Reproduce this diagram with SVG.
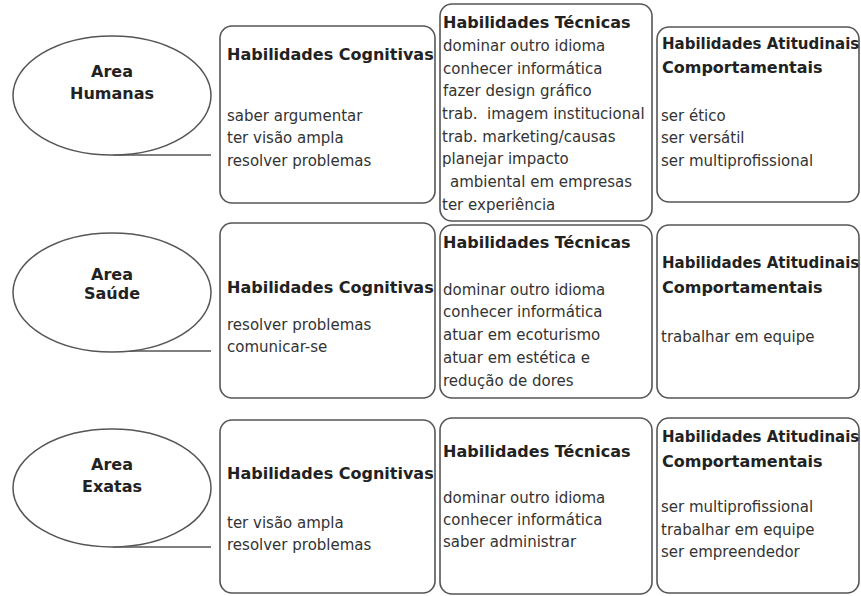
<svg xmlns="http://www.w3.org/2000/svg" width="861" height="596" viewBox="0 0 861 596">
<style>
.bg{fill:#ffffff}
.ell{fill:#ffffff;stroke:#555;stroke-width:1.5}
.box{fill:#ffffff;stroke:#555;stroke-width:1.6}
.conn{stroke:#555;stroke-width:1.5;fill:none}
.t{font-family:"DejaVu Sans",Verdana,sans-serif;font-size:15px;fill:#333}
.h{font-family:"DejaVu Sans",Verdana,sans-serif;font-size:16px;font-weight:bold;fill:#222}
.ha{font-size:15px}
.c{text-anchor:middle}
</style>
<rect class="bg" x="0" y="0" width="861" height="596"/>
<g id="connectors">
<line class="conn" x1="113" y1="155" x2="211" y2="155"/>
<line class="conn" x1="113" y1="351" x2="211" y2="351"/>
<line class="conn" x1="113" y1="547" x2="211" y2="547"/>
</g>
<g id="area-humanas">
<ellipse class="ell" cx="112" cy="95.5" rx="99" ry="59.5"/>
<text class="h c" x="112" y="77">Area</text>
<text class="h c" x="112" y="99">Humanas</text>
</g>
<g id="humanas-cognitivas">
<rect class="box" x="220" y="26" width="215" height="177" rx="12"/>
<text class="h" x="227" y="60">Habilidades Cognitivas</text>
<text class="t" x="227" y="121">saber argumentar</text>
<text class="t" x="227" y="143">ter visão ampla</text>
<text class="t" x="227" y="166">resolver problemas</text>
</g>
<g id="humanas-tecnicas">
<rect class="box" x="440" y="4" width="212" height="217" rx="12"/>
<text class="h" x="443" y="28">Habilidades Técnicas</text>
<text class="t" x="443" y="51">dominar outro idioma</text>
<text class="t" x="443" y="73.5">conhecer informática</text>
<text class="t" x="443" y="96">fazer design gráfico</text>
<text class="t" x="442" y="119" xml:space="preserve">trab.  imagem institucional</text>
<text class="t" x="442" y="141.5">trab. marketing/causas</text>
<text class="t" x="442" y="164">planejar impacto</text>
<text class="t" x="450" y="187">ambiental em empresas</text>
<text class="t" x="442" y="209.5">ter experiência</text>
</g>
<g id="humanas-atitudinais">
<rect class="box" x="657" y="27" width="202" height="175" rx="12"/>
<text class="h ha" x="662" y="49">Habilidades Atitudinais</text>
<text class="h" x="662" y="73">Comportamentais</text>
<text class="t" x="661" y="121">ser ético</text>
<text class="t" x="661" y="143">ser versátil</text>
<text class="t" x="661" y="166">ser multiprofissional</text>
</g>
<g id="area-saude">
<ellipse class="ell" cx="112" cy="292.5" rx="99" ry="59.5"/>
<text class="h c" x="112" y="280">Area</text>
<text class="h c" x="112" y="299">Saúde</text>
</g>
<g id="saude-cognitivas">
<rect class="box" x="220" y="223" width="215" height="175" rx="12"/>
<text class="h" x="227" y="293">Habilidades Cognitivas</text>
<text class="t" x="227" y="330">resolver problemas</text>
<text class="t" x="227" y="352">comunicar-se</text>
</g>
<g id="saude-tecnicas">
<rect class="box" x="440" y="225" width="212" height="173" rx="12"/>
<text class="h" x="443" y="248">Habilidades Técnicas</text>
<text class="t" x="443" y="295">dominar outro idioma</text>
<text class="t" x="443" y="317">conhecer informática</text>
<text class="t" x="443" y="340">atuar em ecoturismo</text>
<text class="t" x="443" y="363">atuar em estética e</text>
<text class="t" x="443" y="386">redução de dores</text>
</g>
<g id="saude-atitudinais">
<rect class="box" x="657" y="225" width="202" height="173" rx="12"/>
<text class="h ha" x="662" y="268">Habilidades Atitudinais</text>
<text class="h" x="662" y="293">Comportamentais</text>
<text class="t" x="661" y="342">trabalhar em equipe</text>
</g>
<g id="area-exatas">
<ellipse class="ell" cx="112" cy="488" rx="99" ry="59"/>
<text class="h c" x="112" y="470">Area</text>
<text class="h c" x="112" y="492">Exatas</text>
</g>
<g id="exatas-cognitivas">
<rect class="box" x="220" y="420" width="215" height="173" rx="12"/>
<text class="h" x="227" y="479">Habilidades Cognitivas</text>
<text class="t" x="227" y="528">ter visão ampla</text>
<text class="t" x="227" y="550">resolver problemas</text>
</g>
<g id="exatas-tecnicas">
<rect class="box" x="440" y="418" width="212" height="176" rx="12"/>
<text class="h" x="443" y="457">Habilidades Técnicas</text>
<text class="t" x="443" y="503">dominar outro idioma</text>
<text class="t" x="443" y="525">conhecer informática</text>
<text class="t" x="443" y="547">saber administrar</text>
</g>
<g id="exatas-atitudinais">
<rect class="box" x="657" y="418" width="202" height="175" rx="12"/>
<text class="h ha" x="662" y="442">Habilidades Atitudinais</text>
<text class="h" x="662" y="467">Comportamentais</text>
<text class="t" x="661" y="512">ser multiprofissional</text>
<text class="t" x="661" y="535">trabalhar em equipe</text>
<text class="t" x="661" y="557">ser empreendedor</text>
</g>
</svg>
